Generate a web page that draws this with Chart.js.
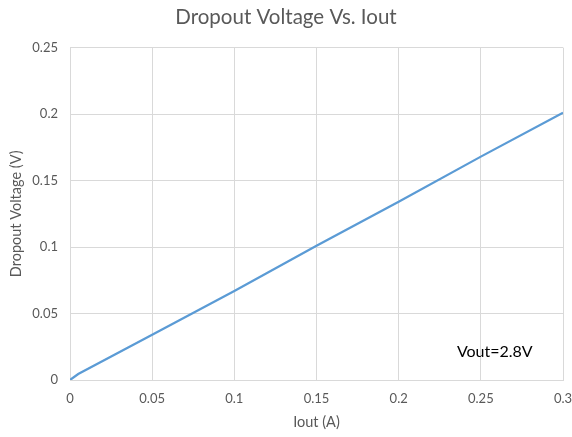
<!DOCTYPE html>
<html>
<head>
<meta charset="utf-8">
<script src="https://cdn.jsdelivr.net/npm/chart.js@4/dist/chart.umd.min.js"></script>
<style>
html,body{margin:0;padding:0;background:#fff;}
#wrap{width:572px;height:437px;}
</style>
</head>
<body>
<div id="wrap"><canvas id="c" width="572" height="437"></canvas></div>
<script>
const iout = [0, 0.005, 0.05, 0.1, 0.15, 0.2, 0.25, 0.3];
const dropout = [0, 0.0045, 0.034, 0.067, 0.101, 0.134, 0.168, 0.201];
const xTicks = [0, 0.05, 0.1, 0.15, 0.2, 0.25, 0.3];
const yTicks = [0, 0.05, 0.1, 0.15, 0.2, 0.25];
const noteText = 'Vout=2.8V';
const notePos = {x: 0.2585, y: 0.0215};

const fontFam = 'Lato, "Open Sans", sans-serif';
const grey = '#595959';

const notePlugin = {
  id: 'note',
  afterDatasetsDraw(chart) {
    const {ctx, scales} = chart;
    const px = scales.x.getPixelForValue(notePos.x);
    const py = scales.y.getPixelForValue(notePos.y);
    ctx.save();
    ctx.fillStyle = '#000';
    ctx.font = '16px ' + fontFam;
    ctx.textAlign = 'center';
    ctx.textBaseline = 'middle';
    ctx.fillText(noteText, px, py);
    ctx.restore();
  }
};

const fmt = v => Number(Number(v).toFixed(2)).toString();

new Chart(document.getElementById('c'), {
  type: 'scatter',
  data: {
    datasets: [{
      data: iout.map((x, i) => ({x: x, y: dropout[i]})),
      showLine: true,
      borderColor: '#5B9BD5',
      borderWidth: 2.25,
      pointRadius: 0,
      tension: 0,
      fill: false
    }]
  },
  options: {
    responsive: false,
    animation: false,
    devicePixelRatio: 1,
    layout: {padding: {left: 0, right: 0, top: 0, bottom: 0}},
    plugins: {
      legend: {display: false},
      tooltip: {enabled: false},
      title: {
        display: true,
        text: 'Dropout Voltage Vs. Iout',
        color: grey,
        font: {family: fontFam, size: 20.5, weight: 'normal'},
        padding: {top: 5, bottom: 18}
      }
    },
    scales: {
      x: {
        type: 'linear',
        min: 0, max: 0.3,
        afterBuildTicks: s => { s.ticks = xTicks.map(v => ({value: v})); },
        afterFit: s => { s.height = 57; s.paddingRight = 9; },
        ticks: {color: grey, font: {family: fontFam, size: 13}, padding: 11, callback: fmt, maxRotation: 0},
        grid: {color: '#d9d9d9', lineWidth: 1, drawTicks: false},
        border: {color: '#d9d9d9'},
        title: {display: true, text: 'Iout (A)', color: grey, font: {family: fontFam, size: 14.5}, padding: {top: 6, bottom: 6}}
      },
      y: {
        type: 'linear',
        min: 0, max: 0.25,
        afterBuildTicks: s => { s.ticks = yTicks.map(v => ({value: v})); },
        afterFit: s => { s.width = 70; },
        ticks: {color: grey, font: {family: fontFam, size: 13}, padding: 12, callback: fmt},
        grid: {color: '#d9d9d9', lineWidth: 1, drawTicks: false},
        border: {display: false},
        title: {display: true, text: 'Dropout Voltage (V)', color: grey, font: {family: fontFam, size: 14.5}, padding: {top: 8, bottom: 2}}
      }
    }
  },
  plugins: [notePlugin]
});
</script>
</body>
</html>
